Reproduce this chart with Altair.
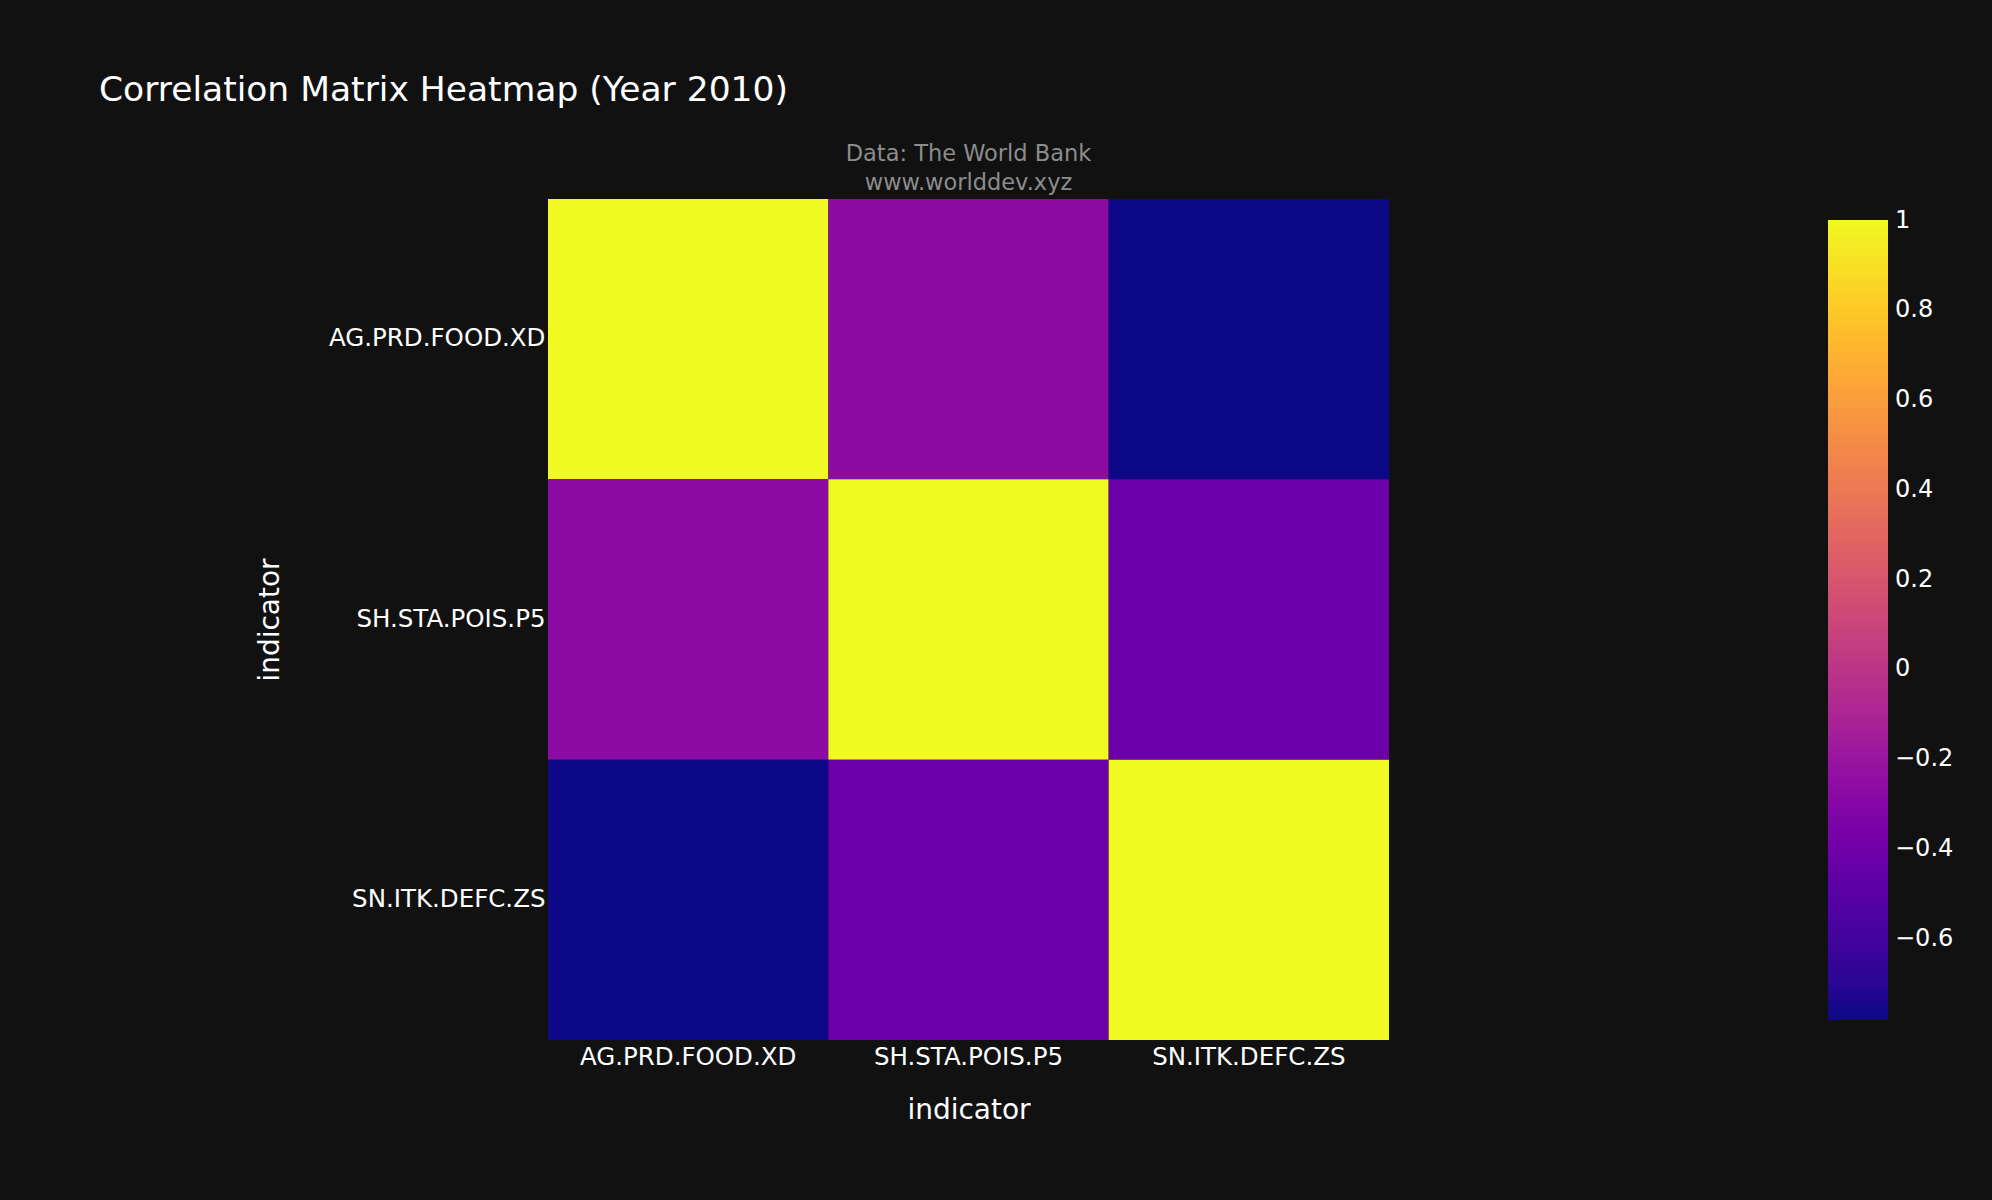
import altair as alt
import pandas as pd

indicators = ["AG.PRD.FOOD.XD", "SH.STA.POIS.P5", "SN.ITK.DEFC.ZS"]
corr = [
    [1.0, -0.26, -0.781],
    [-0.26, 1.0, -0.42],
    [-0.781, -0.42, 1.0],
]
legend_ticks = [1, 0.8, 0.6, 0.4, 0.2, 0, -0.2, -0.4, -0.6]

rows = []
for i, r in enumerate(indicators):
    for j, c in enumerate(indicators):
        rows.append({"row": r, "col": c, "value": corr[i][j]})
df = pd.DataFrame(rows)

FONT = "DejaVu Sans, sans-serif"
W = 841
H = 841

heat = alt.Chart(df).mark_rect(strokeWidth=0).encode(
    x=alt.X("col:N", sort=indicators, title="indicator",
            axis=alt.Axis(labelAngle=0, labelFontSize=24.5, labelColor="#ffffff",
                          labelFont=FONT, labelPadding=5, labelLimit=0,
                          ticks=False, domain=False,
                          titleFontSize=28, titleFont=FONT, titleColor="#ffffff",
                          titleFontWeight="normal", titleX=W / 2, titleY=70,
                          titleBaseline="middle")),
    y=alt.Y("row:N", sort=indicators, title="indicator",
            axis=alt.Axis(labelFontSize=24.5, labelColor="#ffffff", labelFont=FONT,
                          labelPadding=3, labelLimit=0, ticks=False, domain=False,
                          titleFontSize=28, titleFont=FONT, titleColor="#ffffff",
                          titleFontWeight="normal", titleX=-278, titleY=H / 2,
                          titleBaseline="middle", titleAngle=-90)),
    color=alt.Color("value:Q",
                    scale=alt.Scale(scheme="plasma", domain=[-0.781, 1.0015]),
                    legend=alt.Legend(title=None, orient="none", legendX=1280, legendY=21,
                                      direction="vertical", gradientLength=800,
                                      gradientThickness=60, values=legend_ticks,
                                      format="~g", labelBaseline="middle",
                                      labelFontSize=24, labelColor="#ffffff",
                                      labelFont=FONT,
                                      labelOffset=7, gradientStrokeWidth=0)),
)

sub1 = alt.Chart(pd.DataFrame({"t": ["Data: The World Bank"]})).mark_text(
    fontSize=22.5, color="#8c8c8c", font=FONT, baseline="middle", align="center"
).encode(text="t:N", x=alt.value(W / 2), y=alt.value(-45))
sub2 = alt.Chart(pd.DataFrame({"t": ["www.worlddev.xyz"]})).mark_text(
    fontSize=22.5, color="#8c8c8c", font=FONT, baseline="middle", align="center"
).encode(text="t:N", x=alt.value(W / 2), y=alt.value(-16))

chart = alt.layer(heat, sub1, sub2).properties(
    width=W, height=H,
    background="#111111",
    padding={"left": 548, "top": 199, "right": 603, "bottom": 160},
    autosize=alt.AutoSizeParams(type="none"),
    title=alt.TitleParams("Correlation Matrix Heatmap (Year 2010)", anchor="start",
                          frame="group", dx=-449, offset=8, fontSize=34.5,
                          font=FONT, color="#ffffff", fontWeight="normal",
                          baseline="alphabetic"),
).configure_view(strokeWidth=0).configure_axis(grid=False)

chart.save("out.html", embed_options={"renderer": "svg", "actions": False})
